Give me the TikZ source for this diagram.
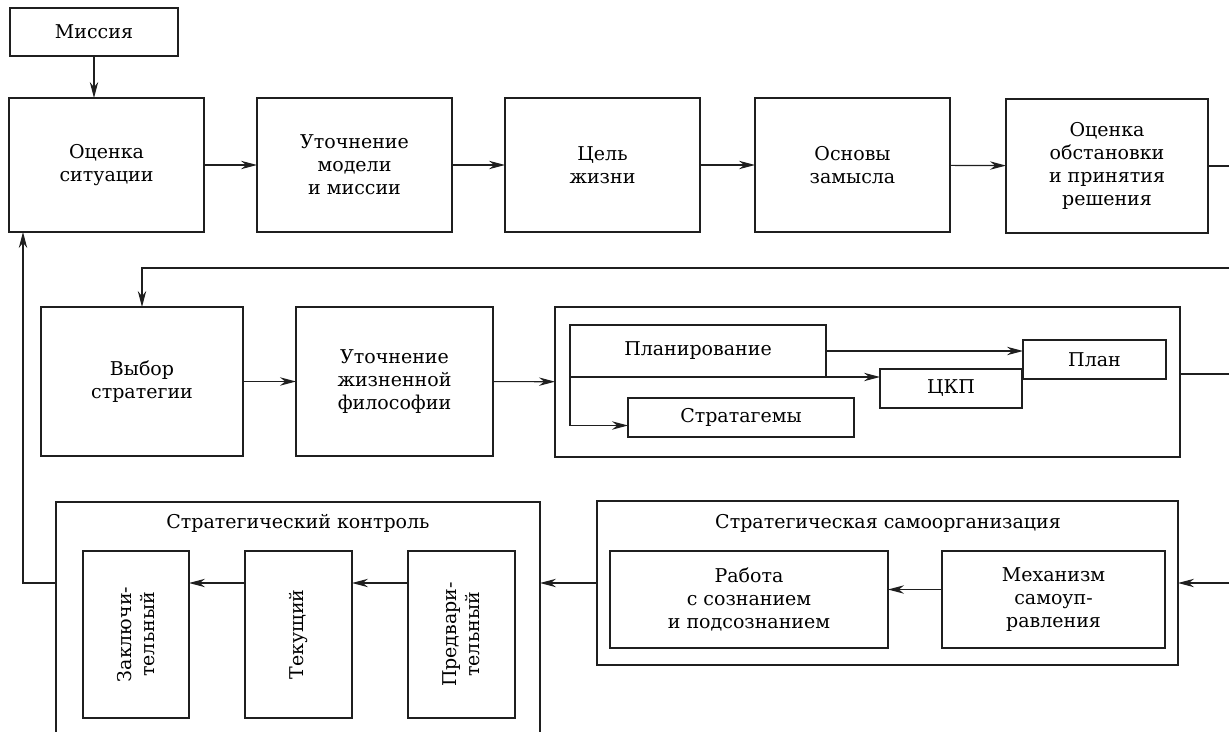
\documentclass[tikz,border=0pt]{standalone}
\usepackage{fontspec}
\setmainfont{DejaVu Serif}
\usetikzlibrary{arrows.meta,calc}

\newlength{\du}
\setlength{\du}{0.5pt}
\definecolor{boxcolor}{rgb}{0.120000, 0.120000, 0.120000}

\tikzset{
  blok/.style={draw=boxcolor, line width=1.3pt, inner sep=0pt, outer sep=0pt,
    align=center, font=\fontsize{9.5}{11.6}\selectfont},
  title/.style={inner sep=0pt, font=\fontsize{9.5}{11.6}\selectfont},
  link/.style={draw=boxcolor, line width=0.6pt, -{Stealth[length=8pt,width=4.2pt]}},
  wire/.style={draw=boxcolor, line width=0.6pt}
}

\begin{document}
\begin{tikzpicture}[x=1\du, y=-1\du]
\clip (0,0) rectangle (1229,732);
% top row
\node[blok, minimum width=168\du, minimum height=48\du] (mis) at (94,32) {Миссия};
\node[blok, minimum width=195\du, minimum height=134\du] (ocsit) at (106.5,165) {Оценка\\ситуации};
\node[blok, minimum width=195\du, minimum height=134\du] (utmod) at (354.5,165) {Уточнение\\модели\\и миссии};
\node[blok, minimum width=195\du, minimum height=134\du] (cel) at (602.5,165) {Цель\\жизни};
\node[blok, minimum width=195\du, minimum height=134\du] (osn) at (852.5,165) {Основы\\замысла};
\node[blok, minimum width=202\du, minimum height=134\du] (ocobst) at (1107,166) {Оценка\\обстановки\\и принятия\\решения};
% second row
\node[blok, minimum width=202\du, minimum height=149\du] (vybor) at (142,381.5) {Выбор\\стратегии};
\node[blok, minimum width=197\du, minimum height=149\du] (utfil) at (394.5,381.5) {Уточнение\\жизненной\\философии};
\node[blok, minimum width=625\du, minimum height=150\du] (planbox) at (867.5,382) {};
\node[blok, minimum width=256\du, minimum height=52\du] (plan) at (698,351) {Планирование};
\node[blok, minimum width=226\du, minimum height=39\du] (strat) at (741,417.5) {Стратагемы};
\node[blok, minimum width=142\du, minimum height=39\du] (ckp) at (951,388.5) {ЦКП};
\node[blok, minimum width=143\du, minimum height=39\du] (planres) at (1094.5,359.5) {План};
% third row
\node[blok, minimum width=484\du, minimum height=258\du] (ctrl) at (298,631) {};
\node[title] (ctrltitle) at (298,523) {Стратегический контроль};
% rotated boxes: south is the right side, north the left side
\node[blok, rotate=90, minimum width=167\du, minimum height=106\du] (zakl) at (136,634.5) {Заключи-\\тельный};
\node[blok, rotate=90, minimum width=167\du, minimum height=107\du] (tek) at (298.5,634.5) {Текущий};
\node[blok, rotate=90, minimum width=167\du, minimum height=107\du] (pred) at (461.5,634.5) {Предвари-\\тельный};
\node[blok, minimum width=581\du, minimum height=164\du] (samo) at (887.5,583) {};
\node[title] (samotitle) at (888,523) {Стратегическая самоорганизация};
\node[blok, minimum width=278\du, minimum height=97\du] (rab) at (749,599.5) {Работа\\с сознанием\\и подсознанием};
\node[blok, minimum width=223\du, minimum height=97\du] (mech) at (1053.5,599.5) {Механизм\\самоуп-\\равления};
% free ends at the cut right edge
\coordinate (r1) at (1229,166);
\coordinate (r2) at (1229,268);
\coordinate (r3) at (1229,374);
\coordinate (r4) at (1229,583);
\coordinate (back) at ($(ocsit.south west)+(14,0)$);

\draw[link] (mis.south) -- (mis.south |- ocsit.north);
\draw[link] (ocsit) -- (utmod);
\draw[link] (utmod) -- (cel);
\draw[link] (cel) -- (osn);
\draw[link] (osn) -- (ocobst);
\draw[wire] (ocobst.east) -- (r1);
\draw[link] (r2) -| (vybor.north);
\draw[link] (vybor) -- (utfil);
\draw[link] (utfil) -- (planbox);
\draw[link] (plan.east) -- (plan.east -| planres.west);
\draw[link] (plan.south east) -- (plan.south east -| ckp.west);
\draw[link] (plan.south west) |- ($(strat.west)+(0,8)$);
\draw[wire] (planbox.east |- r3) -- (r3);
\draw[link] (r4) -- (samo.east);
\draw[link] ($(mech.west)+(0,-10)$) -- ($(rab.east)+(0,-10)$);
\draw[link] (samo.west) -- (samo.west -| ctrl.east);
\draw[link] (pred.north |- samo.west) -- (tek.south |- samo.west);
\draw[link] (tek.north |- samo.west) -- (zakl.south |- samo.west);
\draw[link] (ctrl.west |- samo.west) -| (back);
\end{tikzpicture}
\end{document}
